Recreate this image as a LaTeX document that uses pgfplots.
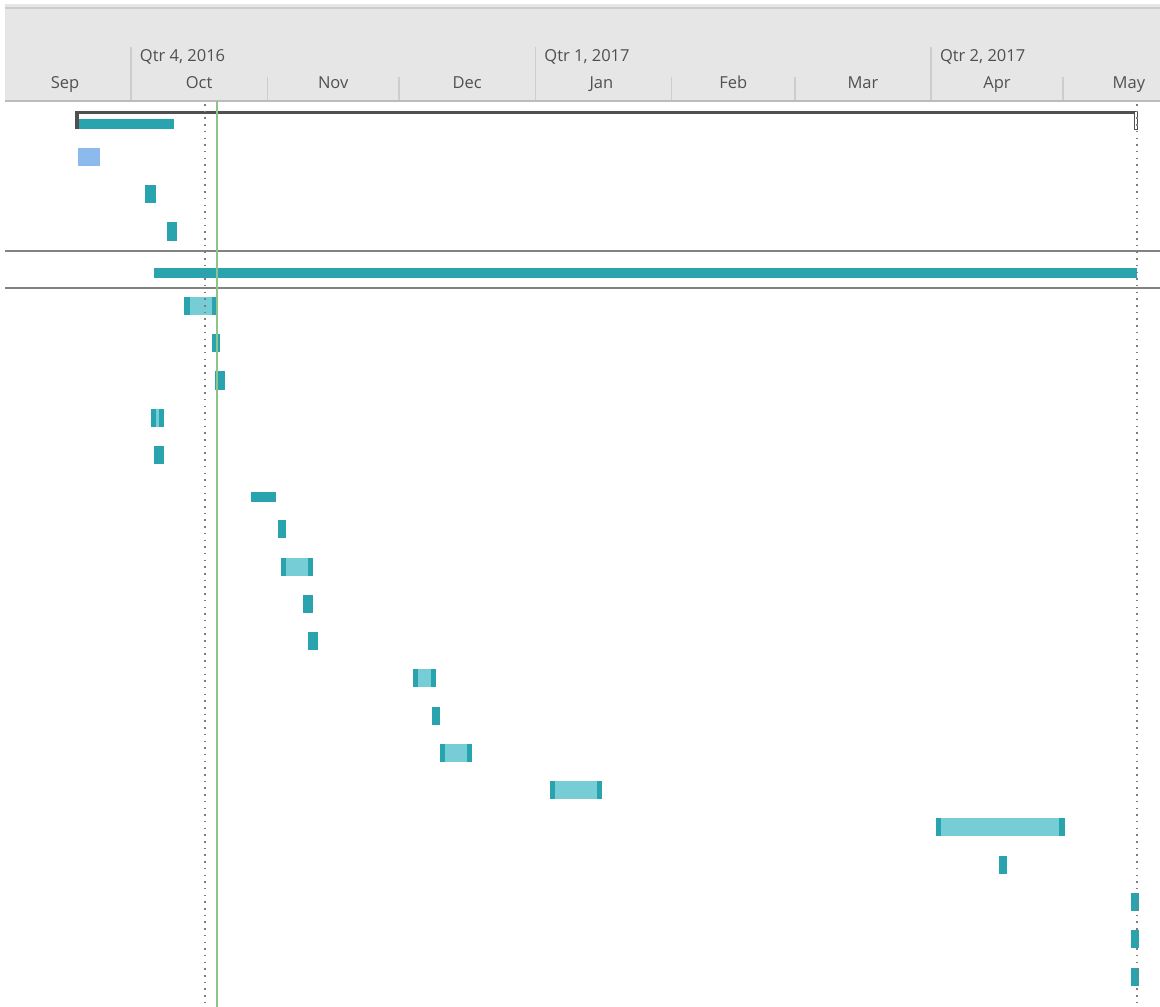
\documentclass[border=0pt]{standalone}
\usepackage{pgfplots}
\pgfplotsset{compat=1.18}
\usepackage{pgfplotstable}
\usepackage{fontspec}
\setmainfont{Open Sans}

\definecolor{barDark}{RGB}{41,163,173}
\definecolor{barLight}{RGB}{118,205,213}
\definecolor{barBlue}{RGB}{141,186,236}
\definecolor{headGray}{RGB}{230,230,230}
\definecolor{headLine}{RGB}{204,204,204}
\definecolor{headBottom}{RGB}{188,188,188}
\definecolor{sepGray}{RGB}{205,205,205}
\definecolor{rowLine}{RGB}{130,130,130}
\definecolor{sumDark}{RGB}{80,80,80}
\definecolor{dotGray}{RGB}{125,125,125}
\definecolor{todayGreen}{RGB}{140,196,140}
\definecolor{txtGray}{RGB}{80,80,80}

% x = days since 1 Sep 2016, y = row position (pixels from top)
\pgfplotstableread{
s e y
33.28 35.65 194.3
38.24 40.36 231.5
48.36 50.25 343.0
49.04 51.39 380.5
35.17 37.58 455.0
63.38 65.26 529.3
69.06 71.41 604.0
70.27 72.54 641.0
98.41 100.30 716.0
227.39 229.35 865.0
}\darkbars

\pgfplotstableread{
s e y
42.13 49.64 306.0
34.49 37.58 418.0
64.13 71.41 567.0
94.09 99.46 678.3
100.30 107.58 753.0
125.32 137.22 790.2
213.13 242.40 827.3
257.42 259.38 902.0
257.42 259.38 939.3
257.42 259.38 977.0
}\cappedbars

\pgfplotstableread{
s e y
18.18 39.79 124.0
35.21 258.85 273.0
57.23 62.92 496.7
}\thinbars

\pgfplotstableread{
s e y
17.88 22.93 157.0
}\bluebars

\pgfplotsset{
  gbar/.style 2 args={draw=none, mark=none,
    error bars/.cd, x dir=plus, x explicit, error mark=none,
    error bar style={line width=#2, draw=#1, line cap=butt, solid}},
}
\tikzset{hdr/.style={text=txtGray, inner sep=0pt, font=\fontsize{16.5}{20}\selectfont}}

\begin{document}
\begin{tikzpicture}
\begin{axis}[
  width=1160pt, height=1007pt, scale only axis,
  xmin=0.205, xmax=264.08, ymin=0, ymax=1007, y dir=reverse,
  hide axis, clip=true,
]
% background
\fill[white] (rel axis cs:0,0) rectangle (rel axis cs:1,1);
% header
\fill[headGray] (axis cs:1.34,4) rectangle (axis cs:264.08,101);
\draw[headLine, line width=2pt] (axis cs:1.34,8) -- (axis cs:264.08,8);
\draw[headBottom, line width=1.6pt] (axis cs:1.34,100.8) -- (axis cs:264.08,100.8);
% quarter separators
\draw[sepGray, line width=1.5pt] (axis cs:30,47) -- (axis cs:30,100);
\draw[sepGray, line width=1.5pt] (axis cs:122,47) -- (axis cs:122,100);
\draw[sepGray, line width=1.5pt] (axis cs:212,47) -- (axis cs:212,100);
% month separators
\draw[sepGray, line width=1.5pt] (axis cs:61,77) -- (axis cs:61,100);
\draw[sepGray, line width=1.5pt] (axis cs:91,77) -- (axis cs:91,100);
\draw[sepGray, line width=1.5pt] (axis cs:153,77) -- (axis cs:153,100);
\draw[sepGray, line width=1.5pt] (axis cs:181,77) -- (axis cs:181,100);
\draw[sepGray, line width=1.5pt] (axis cs:242,77) -- (axis cs:242,100);
\node[hdr, anchor=base west] at (axis cs:32.0,61) {Qtr 4, 2016};
\node[hdr, anchor=base west] at (axis cs:124.0,61) {Qtr 1, 2017};
\node[hdr, anchor=base west] at (axis cs:214.0,61) {Qtr 2, 2017};
\node[hdr, anchor=base] at (axis cs:15,88.5) {Sep};
\node[hdr, anchor=base] at (axis cs:45.5,88.5) {Oct};
\node[hdr, anchor=base] at (axis cs:76,88.5) {Nov};
\node[hdr, anchor=base] at (axis cs:106.5,88.5) {Dec};
\node[hdr, anchor=base] at (axis cs:137,88.5) {Jan};
\node[hdr, anchor=base] at (axis cs:167,88.5) {Feb};
\node[hdr, anchor=base] at (axis cs:196.5,88.5) {Mar};
\node[hdr, anchor=base] at (axis cs:227,88.5) {Apr};
\node[hdr, anchor=base] at (axis cs:257,88.5) {May};
% row separators around the highlighted row
\draw[rowLine, line width=2pt] (axis cs:1.34,250.5) -- (axis cs:264.08,250.5);
\draw[rowLine, line width=2pt] (axis cs:1.34,287.5) -- (axis cs:264.08,287.5);

% project summary bar
\addplot[draw=sumDark, line width=2.6pt] coordinates {(17.27,112.3) (259.0,112.3)};
\addplot[fill=sumDark, draw=none] coordinates {(17.27,111) (18.18,111) (18.18,129) (17.27,129)} -- cycle;
\addplot[fill=white, draw=sumDark, line width=0.9pt] coordinates {(258.35,111.5) (259.0,111.5) (259.0,129) (258.35,129)} -- cycle;

% task bars
\addplot[gbar={barDark}{10pt}] table[x=s, y=y, x error expr=\thisrow{e}-\thisrow{s}] {\thinbars};
\addplot[gbar={barBlue}{18.3pt}] table[x=s, y=y, x error expr=\thisrow{e}-\thisrow{s}] {\bluebars};
\addplot[gbar={barDark}{18.3pt}] table[x=s, y=y, x error expr=\thisrow{e}-\thisrow{s}] {\darkbars};
\addplot[gbar={barLight}{18.3pt}] table[x=s, y=y, x error expr=\thisrow{e}-\thisrow{s}] {\cappedbars};
\addplot[gbar={barDark}{18.3pt}] table[x=s, y=y, x error expr=1.2] {\cappedbars};
\addplot[gbar={barDark}{18.3pt}] table[x expr=\thisrow{e}-1.2, y=y, x error expr=1.2] {\cappedbars};

% status date, project finish and current date lines
\addplot[draw=dotGray, line width=1.5pt, dash pattern=on 1.5pt off 5.2pt] coordinates {(46.84,104) (46.84,1007)};
\addplot[draw=dotGray, line width=1.5pt, dash pattern=on 1.5pt off 5.2pt] coordinates {(258.85,104) (258.85,1007)};
\addplot[draw=todayGreen, line width=1.6pt] coordinates {(49.57,101) (49.57,1007)};
\end{axis}
\end{tikzpicture}
\end{document}
